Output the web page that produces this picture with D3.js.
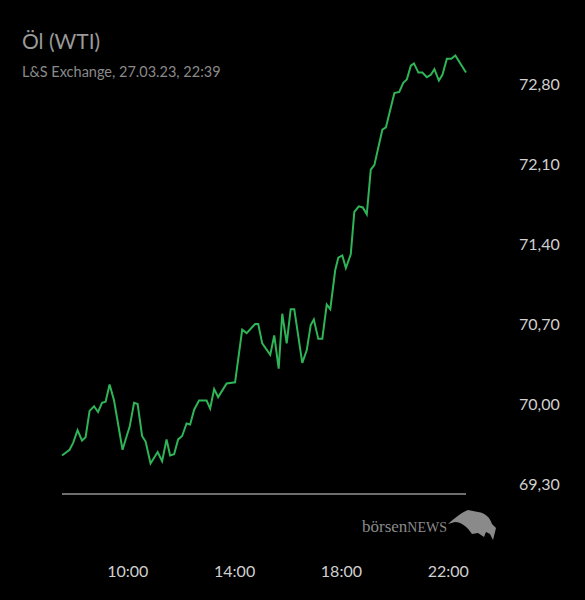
<!DOCTYPE html>
<html><head><meta charset="utf-8">
<script src="https://cdn.jsdelivr.net/npm/d3@7"></script>
<style>body{margin:0;background:#000}</style></head>
<body><div id="chart"></div>
<script>
// price points (time, price)
const times = ["07:32","07:49","07:57","08:07","08:17","08:25","08:34","08:44","08:53","09:02","09:10","09:19","09:29","09:48","09:59","10:04","10:14","10:22","10:32","10:40","10:51","11:07","11:17","11:27","11:35","11:44","11:53","12:02","12:12","12:20","12:29","12:40","12:57","13:05","13:14","13:23","13:42","14:01","14:17","14:27","14:46","14:53","15:02","15:20","15:29","15:39","15:47","15:57","16:06","16:14","16:32","16:42","16:51","16:58","17:08","17:17","17:27","17:35","17:46","17:53","18:02","18:10","18:21","18:29","18:39","18:48","18:57","19:06","19:14","19:32","19:40","19:59","20:10","20:19","20:27","20:36","20:43","20:53","21:02","21:12","21:21","21:29","21:39","21:47","21:57","22:07","22:16","22:40"];
const prices = [69.55,69.60,69.66,69.77,69.68,69.71,69.94,69.98,69.93,70.01,70.02,70.17,70.03,69.60,69.74,69.80,70.01,70.00,69.72,69.67,69.48,69.58,69.50,69.69,69.55,69.56,69.69,69.72,69.83,69.82,69.95,70.03,70.03,69.96,70.13,70.06,70.18,70.19,70.65,70.62,70.70,70.70,70.53,70.43,70.60,70.31,70.79,70.53,70.83,70.83,70.36,70.47,70.69,70.74,70.57,70.57,70.87,70.83,71.17,71.28,71.30,71.19,71.31,71.68,71.73,71.72,71.66,72.05,72.09,72.40,72.42,72.72,72.73,72.81,72.84,72.96,72.98,72.90,72.90,72.86,72.88,72.93,72.83,72.88,73.02,73.02,73.05,72.90];
const yTicks = [69.30, 70.00, 70.70, 71.40, 72.10, 72.80];
const xTicks = ["10:00","14:00","18:00","22:00"];

const parse = d3.timeParse("%H:%M");
const data = times.map((t, i) => ({t: parse(t), v: prices[i]}));

const svg = d3.select('#chart').append('svg').attr('width', 585).attr('height', 600)
  .style('background', '#000').style('font-family', 'Lato, "Open Sans", sans-serif');

const x = d3.scaleTime().domain([parse("07:32"), parse("22:40")]).range([62, 466]);
const y = d3.scaleLinear().domain([69.30, 72.80]).range([484, 84]);

svg.append('text').attr('x', 22).attr('y', 49).text('Öl (WTI)')
  .attr('fill', '#9a9a9a').attr('font-size', 21);
svg.append('text').attr('x', 22).attr('y', 77).text('L&S Exchange, 27.03.23, 22:39')
  .attr('fill', '#8a8a8a').attr('font-size', 14.5);

svg.selectAll('.yl').data(yTicks).join('text')
  .attr('x', 519).attr('y', d => y(d) + 6)
  .text(d => d.toFixed(2).replace('.', ','))
  .attr('fill', '#d0d0d0').attr('font-size', 16);

svg.selectAll('.xl').data(xTicks).join('text')
  .attr('x', d => x(parse(d))).attr('y', 577).attr('text-anchor', 'middle')
  .text(d => d).attr('fill', '#d0d0d0').attr('font-size', 16);

svg.append('line').attr('x1', 62).attr('x2', 466).attr('y1', 494).attr('y2', 494)
  .attr('stroke', '#ddd').attr('stroke-width', 1);

svg.append('path').datum(data)
  .attr('d', d3.line().x(d => x(d.t)).y(d => y(d.v)))
  .attr('fill', 'none').attr('stroke', '#2fb457').attr('stroke-width', 2);

// logo
svg.append('text').attr('x', 362).attr('y', 532).attr('fill', '#8a8a8a')
  .attr('font-family', '"Liberation Serif", serif').attr('font-size', 17)
  .html('börsen<tspan font-size="14">NEWS</tspan>');
svg.append('path')
  .attr('d', 'M448,524 C455,518 462,512 468,510 L478,512 C486,513 490,518 492,524 L496,528 L493,540 L490,534 L486,532 L484,537 L478,533 L472,534 C468,528 462,522 455,522 Z')
  .attr('fill', '#8a8a8a');
</script></body></html>
